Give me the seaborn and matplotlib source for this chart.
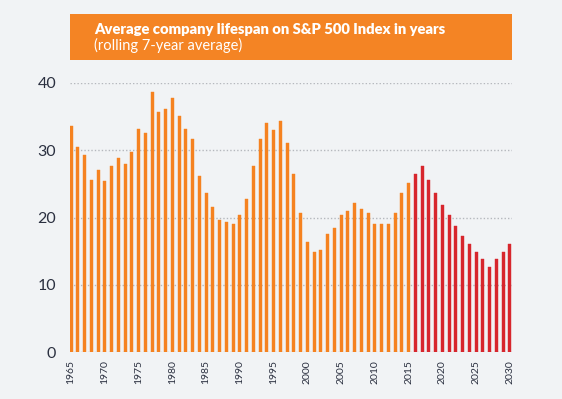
import numpy as np
import pandas as pd
import matplotlib
matplotlib.use('Agg')
import matplotlib.pyplot as plt
from matplotlib.patches import Rectangle
import seaborn as sns

years = list(range(1965, 2031))
lifespan = [
    33.6, 30.5, 29.3, 25.6, 27.0, 25.5, 27.6, 28.8, 27.9, 29.8,
    33.2, 32.6, 38.7, 35.7, 36.2, 37.7, 35.1, 33.1, 31.6, 26.1,
    23.6, 21.5, 19.7, 19.3, 19.1, 20.3, 22.8, 27.7, 31.7, 34.0,
    33.0, 34.3, 31.1, 26.4, 20.6, 16.3, 14.8, 15.2, 17.5, 18.4,
    20.3, 21.0, 22.2, 21.2, 20.7, 19.1, 19.0, 19.1, 20.7, 23.7,
    25.2, 26.4, 27.6, 25.6, 23.6, 21.9, 20.3, 18.7, 17.3, 16.0,
    14.8, 13.8, 12.7, 13.8, 14.8, 16.0,
]
kind = ['actual' if y <= 2015 else 'forecast' for y in years]
tick_years = list(range(1965, 2031, 5))

orange = '#F58220'
red = '#D7262D'
bg = '#F1F3F5'

df = pd.DataFrame({'year': years, 'lifespan': lifespan, 'kind': kind})

sns.set_style('white')
plt.rcParams['font.family'] = ['Lato', 'DejaVu Sans']

fig = plt.figure(figsize=(5.62, 3.99), dpi=100, facecolor=bg)
ax = fig.add_axes([70 / 562, (399 - 352) / 399, 442 / 562, 269 / 399])
ax.set_facecolor(bg)

sns.barplot(data=df, x='year', y='lifespan', hue='kind',
            palette={'actual': orange, 'forecast': red}, saturation=1,
            dodge=False, width=0.45, legend=False, ax=ax, zorder=3)
# thin matching edge so the narrow bars render solid
for p in ax.patches:
    p.set_edgecolor(p.get_facecolor())
    p.set_linewidth(0.3)

ax.set_ylim(0, 40)
ax.set_xlim(-0.15, 65.3)
ax.set_yticks([0, 10, 20, 30, 40])
ax.set_yticklabels(['0', '10', '20', '30', '40'], fontsize=11.5, color='#2B3040')
pos = [years.index(y) for y in tick_years]
ax.set_xticks(pos)
ax.set_xticklabels([str(y) for y in tick_years], rotation=90, fontsize=7.5,
                   color='#2B3040', va='top')
ax.tick_params(axis='y', length=0, pad=10)
ax.tick_params(axis='x', length=0, pad=6)
ax.grid(axis='y', linestyle=(0, (1, 1.5)), color='#B5B8BD', linewidth=1, zorder=0)
ax.grid(axis='x', visible=False)
ax.set_axisbelow(True)
for s in ax.spines.values():
    s.set_visible(False)
ax.set_xlabel('')
ax.set_ylabel('')

fig.patches.append(Rectangle((70 / 562, (399 - 60) / 399), 442 / 562, 46 / 399,
                             transform=fig.transFigure, facecolor='#F48424',
                             edgecolor='none', zorder=0))
fig.text(94 / 562, (399 - 29) / 399, 'Average company lifespan on S&P 500 Index in years',
         color='white', fontsize=10.6, fontweight='heavy', va='center', ha='left')
fig.text(94 / 562, (399 - 45) / 399, '(rolling 7-year average)',
         color='white', fontsize=10.5, va='center', ha='left')

fig.savefig('out.png', dpi=100, facecolor=bg)
